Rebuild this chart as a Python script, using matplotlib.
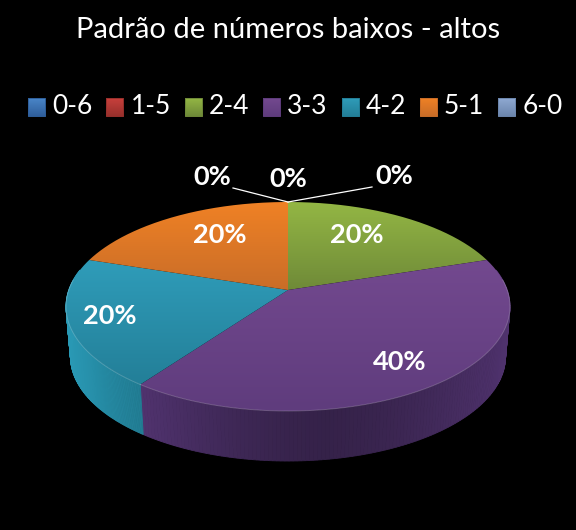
import numpy as np
import matplotlib
matplotlib.use('Agg')
import matplotlib.pyplot as plt
from matplotlib.colors import to_rgb
from matplotlib.patches import PathPatch
from matplotlib.path import Path

plt.rcParams['font.family'] = ['Lato', 'DejaVu Sans']

title = 'Padrão de números baixos - altos'
categories = ['0-6', '1-5', '2-4', '3-3', '4-2', '5-1', '6-0']
shares = [0, 0, 20, 40, 20, 20, 0]

# top and bottom of each colour's gradient, then the side wall
top_colors = ['#4a86c8', '#c8403c', '#93b644', '#73498f', '#2f9cb9', '#ef8125', '#8fa9d2']
low_colors = ['#2f5f9c', '#98302c', '#6f8a38', '#5f3c7d', '#237f98', '#c96d28', '#6c86ad']
side_colors = ['#24466f', '#6f2422', '#4f6428', '#4a2f66', '#1f7388', '#8f4e1c', '#4e6178']

# layout in pixels
cx, cy = 288, 290
ax_x, ax_y, persp = 219.2, 101.9, 0.158
depth, bottom_scale = 50, 0.98
label_xy = [(288, 179), (394, 176), (357, 235), (400, 362), (110, 316), (220, 235), (212, 177)]
leader_ends = [(233, 188), (372, 187)]


def project(theta):
    # clockwise from 12 o'clock, circle seen in perspective
    u, v = np.sin(theta), np.cos(theta)
    w = 1 + persp * v
    return ax_x * u / w, -ax_y * v / w


def gradient(c1, c2, n=64):
    a, b = np.array(to_rgb(c1)), np.array(to_rgb(c2))
    t = np.linspace(0, 1, n)[:, None]
    return (a * (1 - t) + b * t)[:, None, :]


fig = plt.figure(figsize=(5.76, 5.30), dpi=100, facecolor='black')
ax = fig.add_axes([0, 0, 1, 1])
ax.set_facecolor('black')
ax.axis('off')

fracs = np.cumsum([0] + shares) / sum(shares)

# side wall first, only the part facing the viewer
for i in range(len(shares)):
    if shares[i] == 0:
        continue
    th = np.linspace(fracs[i], fracs[i + 1], 160) * 2 * np.pi
    X, Y = project(th)
    base = np.array(to_rgb(side_colors[i]))
    for j in range(len(th) - 1):
        if np.cos((th[j] + th[j + 1]) / 2) > 0.2:
            continue
        # darkest a little right of the middle, lighter toward both ends
        shade = 0.72 + 0.5 * (abs(X[j] - 40) / 230) ** 1.5
        col = np.clip(base * shade, 0, 1)
        xs = [cx + X[j], cx + X[j + 1], cx + X[j + 1] * bottom_scale, cx + X[j] * bottom_scale]
        ys = [cy + Y[j], cy + Y[j + 1], cy + Y[j + 1] + depth, cy + Y[j] + depth]
        ax.fill(xs, ys, color=col, lw=0.6, zorder=1)

# top face, one clipped gradient per slice
for i in range(len(shares)):
    if shares[i] == 0:
        continue
    th = np.linspace(fracs[i], fracs[i + 1], 200) * 2 * np.pi
    X, Y = project(th)
    pts = np.column_stack([np.r_[cx, cx + X, cx], np.r_[cy, cy + Y, cy]])
    im = ax.imshow(gradient(top_colors[i], low_colors[i]), aspect='auto', zorder=2,
                   extent=[pts[:, 0].min(), pts[:, 0].max(), pts[:, 1].max(), pts[:, 1].min()])
    patch = PathPatch(Path(pts), transform=ax.transData, fc='none', ec='none')
    ax.add_patch(patch)
    im.set_clip_path(patch)
    # thin bevel on the front rim
    front = np.cos(th) < 0.1
    ax.plot(cx + X[front], cy + Y[front], color='white', alpha=0.2, lw=0.7, zorder=3)

ax.text(288, 30, title, color='white', fontsize=21, ha='center', va='center')

# legend row
for i, name in enumerate(categories):
    x0 = 28 + i * 78.4
    ax.imshow(gradient(top_colors[i], low_colors[i]), aspect='auto', zorder=2,
              extent=[x0, x0 + 17, 116, 98])
    ax.plot([x0, x0 + 17, x0 + 17, x0, x0], [98, 98, 116, 116, 98], color=low_colors[i], lw=0.7, zorder=3)
    ax.text(x0 + 24, 106, name, color='white', fontsize=19, ha='left', va='center')

for i, share in enumerate(shares):
    ax.text(label_xy[i][0], label_xy[i][1], f'{share}%', color='white', fontsize=19.5,
            fontweight='bold', ha='center', va='center', zorder=5)

start = project(0.0)
for x1, y1 in leader_ends:
    ax.plot([cx + start[0], x1], [cy + start[1], y1], color='white', lw=0.9, zorder=4)

ax.set_xlim(0, 576)
ax.set_ylim(530, 0)
fig.savefig('out.png', dpi=100, facecolor='black')
